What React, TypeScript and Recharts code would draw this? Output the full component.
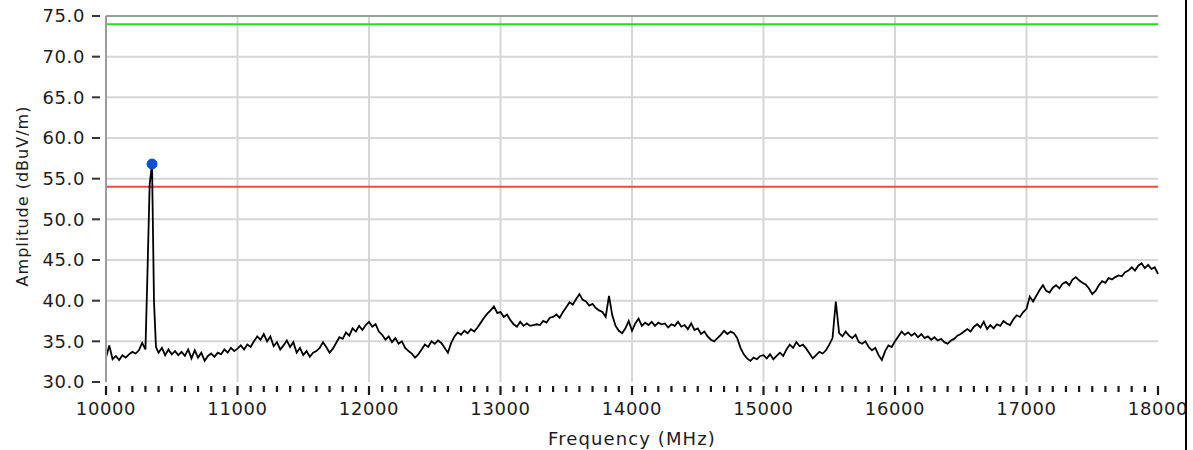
import { LineChart, Line, XAxis, YAxis, CartesianGrid, ReferenceLine, ReferenceDot } from 'recharts'

// sweep 10-18 GHz, 25 MHz bins (finer around the 10.35 GHz spur)
const STEP = 25

const band10Freqs = [
  10000, 10025, 10050, 10075, 10100, 10125, 10150, 10175, 10200, 10225, 10250, 10275, 10300,
  10315, 10332, 10350, 10365, 10380,
  10400, 10425, 10450, 10475, 10500, 10525, 10550, 10575, 10600, 10625, 10650, 10675,
  10700, 10725, 10750, 10775, 10800, 10825, 10850, 10875, 10900, 10925, 10950, 10975,
]
const band10Amps = [
  33.0, 34.5, 32.8, 33.2, 32.7, 33.3, 33.0, 33.4, 33.7, 33.5, 33.9, 34.8, 34.0,
  43.2, 54.3, 56.8, 39.9, 34.3,
  33.6, 34.2, 33.3, 34.0, 33.4, 33.8, 33.3, 33.7, 33.2, 34.0, 32.9, 33.9,
  33.0, 33.6, 32.6, 33.2, 33.5, 33.1, 33.6, 33.4, 34.0, 33.6, 34.2, 33.8,
]

const band11 = [
  34.1, 34.5, 34.0, 34.6, 34.3, 35.0, 35.6, 35.2, 35.9, 35.0,
  35.6, 34.4, 34.9, 34.0, 34.5, 35.1, 34.3, 34.9, 33.6, 34.2,
  33.3, 33.8, 33.1, 33.6, 33.8, 34.2, 34.9, 34.3, 33.6, 34.1,
  34.8, 35.5, 35.3, 36.1, 35.7, 36.6, 36.2, 36.9, 36.4, 37.0,
]
const band12 = [
  37.4, 36.8, 37.1, 36.2, 35.8, 35.2, 35.6, 34.9, 35.4, 34.7,
  35.0, 34.2, 33.8, 33.5, 33.0, 33.4, 34.0, 34.6, 34.3, 35.0,
  34.7, 35.1, 34.8, 34.2, 33.6, 34.8, 35.6, 36.1, 35.8, 36.3,
  36.0, 36.5, 36.2, 36.7, 37.3, 37.9, 38.4, 38.8, 39.3, 38.5,
]
const band13 = [
  38.6, 38.0, 38.3, 37.6, 37.1, 36.8, 37.4, 36.9, 37.2, 36.9,
  37.0, 37.1, 37.0, 37.5, 37.3, 37.9, 38.0, 38.3, 37.9, 38.6,
  39.2, 39.8, 39.5, 40.2, 40.8, 40.1, 39.9, 39.4, 39.6, 39.1,
  38.8, 38.6, 38.0, 40.6, 38.2, 36.9, 36.3, 36.0, 36.6, 37.5,
]
const band14 = [
  36.3, 37.2, 37.8, 36.9, 37.3, 37.0, 37.4, 36.9, 37.3, 37.1,
  37.2, 36.7, 37.1, 36.9, 37.4, 36.8, 37.0, 36.5, 37.2, 36.4,
  36.6, 35.9, 36.2, 35.6, 35.2, 35.0, 35.4, 35.8, 36.3, 35.9,
  36.2, 36.0, 35.4, 34.2, 33.4, 32.9, 32.6, 33.0, 32.8, 33.2,
]
const band15 = [
  33.3, 32.9, 33.4, 32.8, 33.2, 33.6, 33.2, 34.0, 34.6, 34.2,
  34.9, 34.4, 34.6, 34.1, 33.5, 32.9, 33.3, 33.7, 33.5, 33.9,
  34.6, 35.4, 39.9, 36.0, 35.6, 36.2, 35.7, 35.4, 35.8, 34.9,
  34.7, 35.0, 34.3, 33.9, 34.2, 33.3, 32.7, 33.8, 34.5, 34.3,
]
const band16 = [
  35.0, 35.6, 36.2, 35.8, 36.1, 35.7, 36.0, 35.5, 35.9, 35.4,
  35.6, 35.2, 35.5, 35.1, 35.3, 34.9, 34.7, 35.1, 35.3, 35.7,
  35.9, 36.2, 36.5, 36.2, 36.8, 37.1, 36.7, 37.4, 36.5, 37.0,
  36.6, 37.1, 36.9, 37.5, 37.2, 37.0, 37.7, 38.2, 38.0, 38.6,
]
const band17 = [
  39.0, 40.5, 39.9, 40.6, 41.3, 41.9, 41.2, 41.0, 41.6, 41.9,
  41.5, 42.1, 42.3, 41.9, 42.6, 42.9, 42.5, 42.2, 42.0, 41.5,
  40.8, 41.2, 41.9, 42.4, 42.2, 42.8, 42.6, 42.9, 43.1, 43.0,
  43.5, 43.7, 44.1, 43.7, 44.3, 44.6, 44.0, 44.4, 43.9, 44.1,
  43.3,
]

const bandStarts: [number, number[]][] = [
  [11000, band11], [12000, band12], [13000, band13], [14000, band14],
  [15000, band15], [16000, band16], [17000, band17],
]

const data = [
  ...band10Freqs.map((freq, i) => ({ freq, amp: band10Amps[i] })),
  ...bandStarts.flatMap(([start, vals]) => vals.map((amp, i) => ({ freq: start + i * STEP, amp }))),
]

const xMajorTicks = [10000, 11000, 12000, 13000, 14000, 15000, 16000, 17000, 18000]
const xMinorTicks = xMajorTicks.slice(0, -1).flatMap(t => [1, 2, 3, 4, 5, 6, 7, 8, 9].map(k => t + k * 100))
const xGrid = [11000, 12000, 13000, 14000, 15000, 16000, 17000]
const yTicks = [30, 35, 40, 45, 50, 55, 60, 65, 70, 75]
const yGrid = [35, 40, 45, 50, 55, 60, 65, 70]

const limitUpper = 74.0
const limitLower = 54.0
const markerFreq = 10350
const markerAmp = 56.8

const FONT = '"DejaVu Sans", Verdana, sans-serif'
const TEXT = '#1c1c1c'

function XTick({ x, y, payload }: any) {
  return (
    <g>
      <line x1={x} x2={x} y1={y + 4} y2={y + 13} stroke="#1a1a1a" strokeWidth={2.2} />
      <text x={x} y={y + 33} textAnchor="middle" fontFamily={FONT} fontSize={18}
        letterSpacing={0.6} fill={TEXT}>{payload.value}</text>
    </g>
  )
}

// short mark under the plot for the 100 MHz steps
function MinorMark(p: any) {
  const bottom = Math.max(p.y1, p.y2)
  return <line x1={p.x1} x2={p.x1} y1={bottom + 4} y2={bottom + 10} stroke="#1a1a1a" strokeWidth={2.2} />
}

function YTick({ x, y, payload }: any) {
  return (
    <g>
      <line x1={x - 14} x2={x - 6} y1={y} y2={y} stroke="#333" strokeWidth={2} />
      <text x={x - 21} y={y} dy="0.36em" textAnchor="end" fontFamily={FONT} fontSize={18}
        letterSpacing={0.6} fill={TEXT}>{payload.value.toFixed(1)}</text>
    </g>
  )
}

function XTitle({ viewBox }: any) {
  return (
    <text x={viewBox.x + viewBox.width / 2} y={viewBox.y + 63} textAnchor="middle"
      fontFamily={FONT} fontSize={18} letterSpacing={1.1} fill={TEXT}>Frequency (MHz)</text>
  )
}

function YTitle({ viewBox }: any) {
  const cx = 28
  const cy = viewBox.y + viewBox.height / 2 - 3
  return (
    <text x={cx} y={cy} transform={`rotate(-90, ${cx}, ${cy})`} textAnchor="middle"
      fontFamily={FONT} fontSize={16} letterSpacing={1} fill={TEXT}>Amplitude (dBuV/m)</text>
  )
}

export default function App() {
  return (
    <div style={{ position: 'absolute', left: 0, top: 0, width: 1193, height: 450, background: '#fff', overflow: 'hidden' }}>
      <LineChart width={1193} height={450} data={data} margin={{ top: 16, right: 35, bottom: 28, left: 0 }}>
        <CartesianGrid stroke="#d6d6d6" strokeWidth={2} horizontalValues={yGrid} verticalValues={xGrid} />
        <XAxis dataKey="freq" type="number" domain={[10000, 18000]} ticks={xMajorTicks} interval={0}
          height={40} tickSize={0} tickMargin={0} axisLine={false} tickLine={false}
          tick={<XTick />} label={<XTitle />} />
        <YAxis type="number" domain={[30, 75]} ticks={yTicks} interval={0} width={106}
          tickSize={0} tickMargin={0} axisLine={{ stroke: '#9c9c9c', strokeWidth: 2 }} tickLine={false}
          tick={<YTick />} label={<YTitle />} />
        {xMinorTicks.map(f => (
          <ReferenceLine key={f} x={f} ifOverflow="visible" shape={<MinorMark />} />
        ))}
        <ReferenceLine y={75} stroke="#9c9c9c" strokeWidth={2} />
        <ReferenceLine y={limitUpper} stroke="#1ee01e" strokeWidth={2} />
        <ReferenceLine y={limitLower} stroke="#f04a3c" strokeWidth={2} />
        <Line type="linear" dataKey="amp" stroke="#000" strokeWidth={1.8} dot={false} isAnimationActive={false} />
        <ReferenceDot x={markerFreq} y={markerAmp} r={5} fill="#0a4fd6" stroke="#0a4fd6" />
      </LineChart>
      <div style={{ position: 'absolute', left: 1185, top: 0, width: 2, height: 450, background: '#000' }} />
    </div>
  )
}
